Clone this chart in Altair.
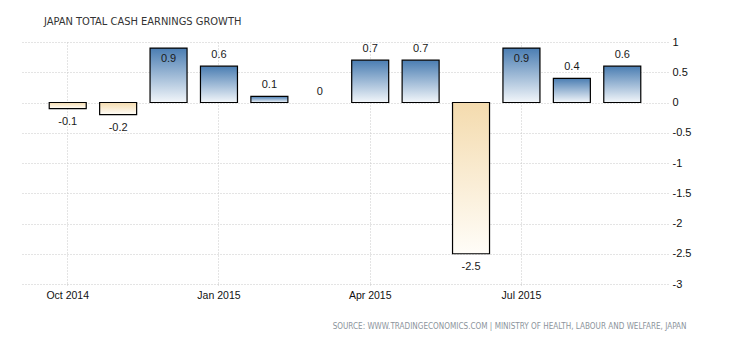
import altair as alt
import pandas as pd

months = ["Oct 2014", "Nov 2014", "Dec 2014", "Jan 2015", "Feb 2015", "Mar 2015",
          "Apr 2015", "May 2015", "Jun 2015", "Jul 2015", "Aug 2015", "Sep 2015"]
values = [-0.1, -0.2, 0.9, 0.6, 0.1, 0, 0.7, 0.7, -2.5, 0.9, 0.4, 0.6]
label_months = ["Oct 2014", "Jan 2015", "Apr 2015", "Jul 2015"]
y_ticks = [-3, -2.5, -2, -1.5, -1, -0.5, 0, 0.5, 1]

title_text = "JAPAN TOTAL CASH EARNINGS GROWTH"
source_text = "SOURCE: WWW.TRADINGECONOMICS.COM | MINISTRY OF HEALTH, LABOUR AND WELFARE, JAPAN"

df = pd.DataFrame({"month": months, "value": values})

NARROW = "Liberation Sans Narrow, DejaVu Sans Condensed, sans-serif"
FONT = "Liberation Sans, Arial, sans-serif"
GRID = "#c8c8c8"

x = alt.X(
    "month:N", sort=months,
    scale=alt.Scale(paddingInner=0.266, paddingOuter=0.54),
    axis=alt.Axis(
        values=label_months, labelAngle=0, bandPosition=0.5,
        grid=True, gridDash=[1, 2], gridColor=GRID,
        domain=False, ticks=True, tickSize=3, tickColor=GRID, tickDash=[1, 2],
        labelFont=FONT, labelFontSize=10.5, labelColor="#111111", labelPadding=3,
        title=source_text, titleFont=NARROW, titleFontSize=8.1, titleFontWeight="normal",
        titleColor="#8c949c", titleX=664, titleY=42, titleAlign="right",
        titleBaseline="middle", titleAnchor="end",
    ),
)
y = alt.Y(
    "value:Q",
    scale=alt.Scale(domain=[-3, 1], nice=False, zero=False),
    axis=alt.Axis(
        orient="right", values=y_ticks, labelExpr="toString(datum.value)",
        grid=True, gridDash=[1, 2], gridColor=GRID,
        domain=False, ticks=False, labelPadding=4,
        labelFont=FONT, labelFontSize=11, labelColor="#111111", title=None,
    ),
)

blue = alt.LinearGradient(
    gradient="linear", x1=0, y1=0, x2=0, y2=1,
    stops=[alt.GradientStop(color="#4a7db2", offset=0),
           alt.GradientStop(color="#f2f6fa", offset=1)],
)
beige = alt.LinearGradient(
    gradient="linear", x1=0, y1=0, x2=0, y2=1,
    stops=[alt.GradientStop(color="#f4dbae", offset=0),
           alt.GradientStop(color="#fffdf8", offset=1)],
)

base = alt.Chart(df).transform_calculate(lbl="toString(datum.value)")

pos_bars = base.transform_filter("datum.value > 0").mark_bar(
    color=blue, stroke="black", strokeWidth=1.2
).encode(x=x, y=y, y2=alt.datum(0))
neg_bars = base.transform_filter("datum.value < 0").mark_bar(
    color=beige, stroke="black", strokeWidth=1.2
).encode(x=x, y=y, y2=alt.datum(0))

txt = dict(font=FONT, fontSize=11, color="#1a1a1a", baseline="middle", align="center")
lab_above = base.transform_filter("datum.value >= 0 && datum.value < 0.85").mark_text(
    dy=-11, **txt).encode(x=x, y=y, text="lbl:N")
lab_inside = base.transform_filter("datum.value >= 0.85").mark_text(
    dy=11, **txt).encode(x=x, y=y, text="lbl:N")
lab_below = base.transform_filter("datum.value < 0").mark_text(
    dy=13.5, **txt).encode(x=x, y=y, text="lbl:N")

chart = alt.layer(pos_bars, neg_bars, lab_above, lab_inside, lab_below).properties(
    width=646, height=242,
    title=alt.TitleParams(
        title_text, anchor="start", frame="group", dx=22, offset=0,
        baseline="alphabetic", font=NARROW, fontSize=11, fontWeight="normal",
        color="#333333",
    ),
    autosize=alt.AutoSizeParams(type="none"),
    padding={"left": 22, "top": 42, "right": 62, "bottom": 56},
    background="white",
).configure_view(stroke=None)

chart.save("out.html", embed_options={"renderer": "svg", "actions": False})
